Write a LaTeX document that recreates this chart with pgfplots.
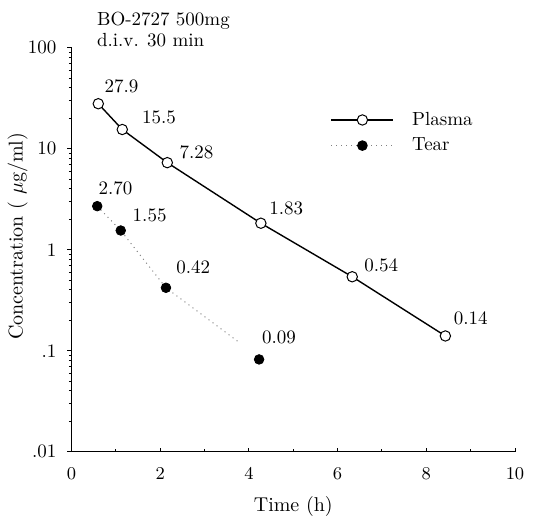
\documentclass[border=0pt]{standalone}
\usepackage{pgfplots}
\pgfplotsset{compat=1.18}
\begin{document}
\begin{tikzpicture}
\begin{axis}[
  scale only axis, width=221.75pt, height=202pt,
  at={(0,0)}, anchor=south west,
  xmin=0, xmax=10, ymin=0.01, ymax=100, ymode=log,
  axis x line*=bottom, axis y line*=left,
  axis line style={line width=0.6pt},
  xtick={0,2,...,10}, minor xtick={1,3,...,9},
  ytick={0.01,0.1,1,10,100}, yticklabels={.01,.1,1,10,100},
  xtick align=inside, ytick align=outside,
  major tick length=2pt, minor tick length=1.3pt,
  every tick/.style={black, line width=0.5pt},
  tick label style={font=\fontsize{9.5}{11}\selectfont},
  xticklabel style={yshift=-4.5pt},
  yticklabel style={xshift=-2pt},
  label style={font=\fontsize{10}{12}\selectfont},
  xlabel={Time (h)},
  xlabel style={at={(rel axis cs:0.5,0)}, anchor=base, yshift=-30pt},
  ylabel={Concentration ( $\mu$g/ml)},
  ylabel style={at={(rel axis cs:0,0.533)}, anchor=center, yshift=27pt},
  clip=false,
  legend style={at={(rel axis cs:0.57,0.862)}, anchor=north west, draw=none, fill=none,
    font=\fontsize{9.5}{11}\selectfont, row sep=0.8pt},
  legend cell align=left,
  legend image code/.code={\draw[mark repeat=2,mark phase=2,#1] plot coordinates {(0pt,0pt) (15.5pt,0pt) (31pt,0pt)};},
]
\addplot[black, line width=0.7pt, mark=*, mark size=2.6pt,
  mark options={fill=white, draw=black, line width=0.5pt, solid}]
  coordinates {(0.604,27.9) (1.145,15.5) (2.16,7.28) (4.27,1.83) (6.33,0.54) (8.43,0.14)};
\addlegendentry{\hspace{7pt}Plasma}
\addplot[gray, dotted, line width=0.5pt, forget plot]
  coordinates {(0.58,2.70) (1.11,1.55) (2.13,0.42) (3.78,0.121)};
\addplot[only marks, black, mark=*, mark size=2.4pt, forget plot]
  coordinates {(0.58,2.70) (1.11,1.55) (2.13,0.42) (4.23,0.082)};
\addlegendimage{gray, dotted, line width=0.5pt, mark=*, mark size=2.4pt, mark options={solid, black, fill=black}}
\addlegendentry{\hspace{7pt}Tear}

\tikzset{ann/.style={anchor=base west, inner sep=0pt, font=\fontsize{9.5}{11}\selectfont}}
\node[ann, xshift=3pt, yshift=5.8pt] at (axis cs:0.604,27.9) {27.9};
\node[ann, xshift=9.7pt, yshift=3.15pt] at (axis cs:1.145,15.5) {15.5};
\node[ann, xshift=6pt, yshift=2pt] at (axis cs:2.16,7.28) {7.28};
\node[ann, xshift=4pt, yshift=4.15pt] at (axis cs:4.27,1.83) {1.83};
\node[ann, xshift=5.85pt, yshift=2.5pt] at (axis cs:6.33,0.54) {0.54};
\node[ann, xshift=4pt, yshift=5.85pt] at (axis cs:8.43,0.14) {0.14};
\node[ann, xshift=0.5pt, yshift=5.85pt] at (axis cs:0.58,2.70) {2.70};
\node[ann, xshift=5.8pt, yshift=4.7pt] at (axis cs:1.11,1.55) {1.55};
\node[ann, xshift=5pt, yshift=7pt] at (axis cs:2.13,0.42) {0.42};
\node[ann, xshift=1.35pt, yshift=7.85pt] at (axis cs:4.23,0.082) {0.09};

\node[anchor=base west, inner sep=0pt, font=\fontsize{9.5}{11}\selectfont] at (rel axis cs:0.0568,1.056) {BO-2727 500mg};
\node[anchor=base west, inner sep=0pt, font=\fontsize{9.5}{11}\selectfont] at (rel axis cs:0.0568,1.003) {d.i.v. 30 min};
\end{axis}
\path (-35.75pt,-33.15pt) rectangle (236.25pt,225.85pt);
\end{tikzpicture}
\end{document}
